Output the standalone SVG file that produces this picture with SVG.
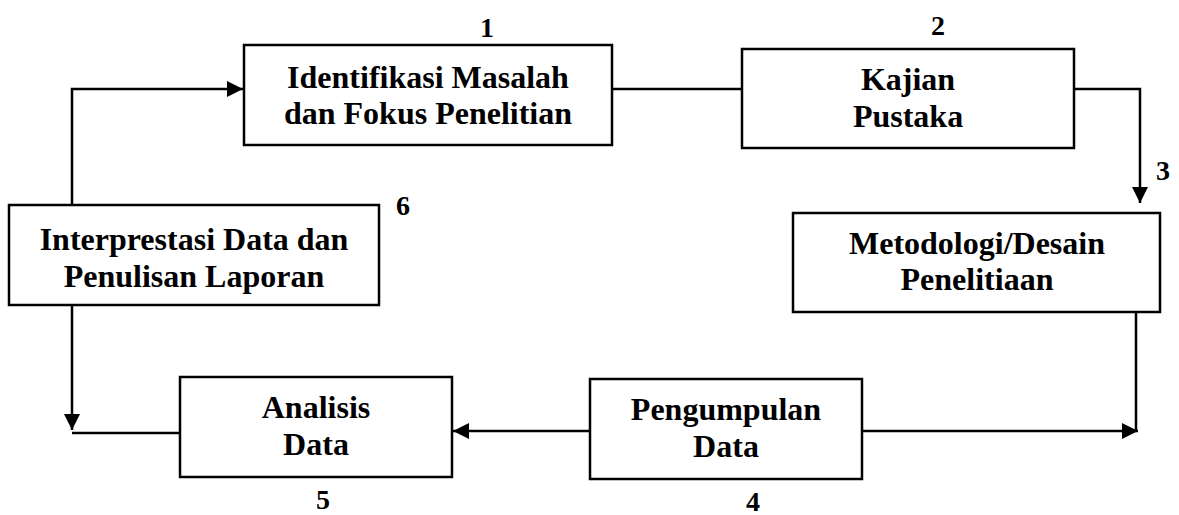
<svg xmlns="http://www.w3.org/2000/svg" width="1179" height="515" viewBox="0 0 1179 515">
<style>
.box{fill:#fff;stroke:#000;stroke-width:2.5}
.t{font-family:"Liberation Serif","Times New Roman",serif;font-weight:bold;font-size:32px;fill:#000;text-anchor:middle}
.n{font-family:"Liberation Serif","Times New Roman",serif;font-weight:bold;font-size:28px;fill:#000;text-anchor:middle}
.c{fill:none;stroke:#000;stroke-width:2.5}
</style>
<defs>
<marker id="ah" markerUnits="userSpaceOnUse" markerWidth="18" markerHeight="18" viewBox="0 0 18 18" refX="16" refY="9" orient="auto">
<path d="M0,1 L16,9 L0,17 Z" fill="#000"/>
</marker>
</defs>
<rect width="1179" height="515" fill="#fff"/>
<g id="connectors">
<path class="c" d="M72,205 V89 H243" marker-end="url(#ah)"/>
<path class="c" d="M612,89 H742"/>
<path class="c" d="M1074,89 H1140 V203" marker-end="url(#ah)"/>
<path class="c" d="M1136,312 V431"/>
<path class="c" d="M862,431 H1138" marker-end="url(#ah)"/>
<path class="c" d="M590,431 H453" marker-end="url(#ah)"/>
<path class="c" d="M72,305 V430" marker-end="url(#ah)"/>
<path class="c" d="M72,433 H180"/>
</g>
<g id="node1">
<rect class="box" x="244" y="45" width="368" height="100"/>
<text class="t" x="428" y="88">Identifikasi Masalah</text>
<text class="t" x="428" y="124">dan Fokus Penelitian</text>
<text class="n" x="487" y="37">1</text>
</g>
<g id="node2">
<rect class="box" x="742" y="49" width="332" height="99"/>
<text class="t" x="908" y="90">Kajian</text>
<text class="t" x="908" y="127">Pustaka</text>
<text class="n" x="938" y="35">2</text>
</g>
<g id="node3">
<rect class="box" x="793" y="213" width="367" height="99"/>
<text class="t" x="977" y="254">Metodologi/Desain</text>
<text class="t" x="977" y="290">Penelitiaan</text>
<text class="n" x="1163" y="180">3</text>
</g>
<g id="node4">
<rect class="box" x="590" y="379" width="272" height="100"/>
<text class="t" x="726" y="420">Pengumpulan</text>
<text class="t" x="726" y="457">Data</text>
<text class="n" x="753" y="511">4</text>
</g>
<g id="node5">
<rect class="box" x="180" y="377" width="272" height="100"/>
<text class="t" x="316" y="418">Analisis</text>
<text class="t" x="316" y="455">Data</text>
<text class="n" x="323" y="509">5</text>
</g>
<g id="node6">
<rect class="box" x="9" y="205" width="370" height="100"/>
<text class="t" x="194" y="250">Interprestasi Data dan</text>
<text class="t" x="194" y="287">Penulisan Laporan</text>
<text class="n" x="403" y="215">6</text>
</g>
</svg>
